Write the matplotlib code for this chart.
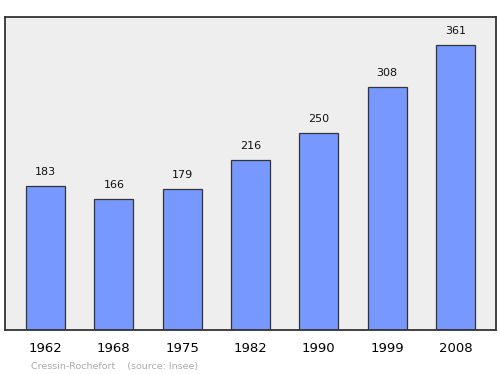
import numpy as np
import matplotlib.pyplot as plt

years = ['1962', '1968', '1975', '1982', '1990', '1999', '2008']
population = [183, 166, 179, 216, 250, 308, 361]

fig = plt.figure(figsize=(5, 3.74), dpi=100)
ax = fig.add_axes([0.01, 0.1176, 0.982, 0.837])
ax.set_facecolor('#eeeeee')

x = np.arange(len(years))
ax.bar(x, population, width=0.57, color='#7799ff', edgecolor='#333333', linewidth=0.9, zorder=2)

for xi, v in zip(x, population):
    ax.annotate(str(v), (xi, v), xytext=(0, 6.5), textcoords='offset points',
                ha='center', va='bottom', fontsize=8, color='#111111')

ax.set_xlim(-0.593, 6.593)
ax.set_ylim(0, 397)
ax.set_xticks(x)
ax.set_xticklabels(years, fontsize=9.5)
ax.tick_params(axis='x', length=0, pad=8.5)
ax.set_yticks([])
for s in ax.spines.values():
    s.set_color('#333333')
    s.set_linewidth(1.3)

fig.text(0.062, 0.008, 'Cressin-Rochefort    (source: Insee)', fontsize=6.8, color='#aaaaaa', ha='left', va='bottom')

fig.savefig('out.png', dpi=100)
